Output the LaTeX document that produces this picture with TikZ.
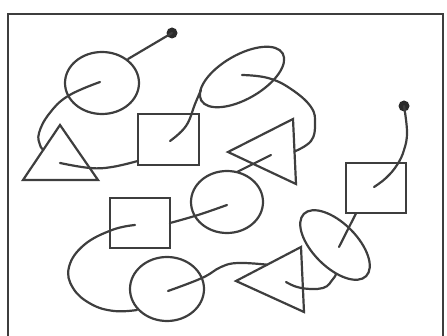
\documentclass[tikz,border=0pt]{standalone}
\usetikzlibrary{shapes.geometric,calc}
\definecolor{ink}{RGB}{62,62,62}
\begin{document}
\begin{tikzpicture}[x=1pt,y=-1pt,
  shp/.style={draw=ink,line width=2.2pt,inner sep=0pt,outer sep=0pt},
  oval/.style={shp,ellipse},
  box/.style={shp,rectangle},
  tri/.style={draw=ink,line width=2.2pt,line join=miter},
  conn/.style={draw=ink,line width=2.2pt,line cap=round},
  blob/.style={circle,fill=ink!70!black,inner sep=0pt,minimum size=11pt}]
\useasboundingbox (0,0) rectangle (447,336);
\draw[ink,line width=2pt] (8,336) -- (8,14) -- (443,14) -- (443,336);

% shapes
\node[oval,minimum width=74pt,minimum height=62pt] (c1) at (102,83) {};
\node[oval,minimum width=72pt,minimum height=62pt] (c2) at (227,202) {};
\node[oval,minimum width=74pt,minimum height=64pt] (c3) at (167,289) {};
\node[oval,minimum width=94pt,minimum height=44pt,rotate=30] (e2) at (242,77) {};
\node[oval,minimum width=88pt,minimum height=44pt,rotate=-45] (e3) at (335,245) {};
\node[box,minimum width=61pt,minimum height=51pt] (s1) at (168.5,139.5) {};
\node[box,minimum width=60pt,minimum height=50pt] (s2) at (140,223) {};
\node[box,minimum width=60pt,minimum height=50pt] (s3) at (376,188) {};
\node[blob] (d1) at (172,33) {};
\node[blob] (d2) at (404,106) {};

\coordinate (t1a) at (60,125); \coordinate (t1l) at (23,180); \coordinate (t1r) at (98,180);
\coordinate (t2a) at (228,152); \coordinate (t2t) at (293,119); \coordinate (t2b) at (296,184);
\coordinate (t3a) at (236,281); \coordinate (t3t) at (301,247); \coordinate (t3b) at (304,312);
\draw[tri] (t1a) -- (t1l) -- (t1r) -- cycle;
\draw[tri] (t2a) -- (t2t) -- (t2b) -- cycle;
\draw[tri] (t3a) -- (t3t) -- (t3b) -- cycle;

% connector end points
\coordinate (a1) at (128,59);
\coordinate (b1) at ($(t1a)!0.45!(t1l)$);
\coordinate (c0) at (60,163);
\coordinate (cc1) at ($(s1.south west)!0.08!(s1.north west)$);
\coordinate (dd0) at (170,141);
\coordinate (dd1) at (201,90);
\coordinate (ee1) at ($(t2t)!0.5!(t2b)$);
\coordinate (f0) at (271,155);
\coordinate (f1) at (237,172);
\coordinate (h0) at (135,225);
\coordinate (h1) at (137,310);
\coordinate (i1) at ($(t3a)!0.48!(t3t)$);
\coordinate (j0) at (286,282);
\coordinate (j1) at (336,274);
\coordinate (k0) at (339,247);
\coordinate (k1) at ($(s3.south west)!0.17!(s3.south east)$);

% connectors
\draw[conn] (d1.center) -- (a1);
\draw[conn] plot[smooth,tension=0.7] coordinates {(100,82) (68,96) (49,114) (39,133) (40,145) (b1)};
\draw[conn] plot[smooth,tension=0.7] coordinates {(c0) (90,168) (112,167) (cc1)};
\draw[conn] plot[smooth,tension=0.7] coordinates {(dd0) (186,126) (195,104) (dd1)};
\draw[conn] plot[smooth,tension=0.7] coordinates {(242,75) (268,78) (291,89) (311,107) (315,124) (311,141) (ee1)};
\draw[conn] (f0) -- (f1);
\draw[conn] plot[smooth,tension=0.7] coordinates {(227,205) (198,215) (s2.east)};
\draw[conn] plot[smooth,tension=0.7] coordinates {(h0) (112,230) (84,245) (69,267) (73,288) (91,304) (114,311) (h1)};
\draw[conn] plot[smooth,tension=0.7] coordinates {(168,291) (202,278) (221,267) (238,263) (i1)};
\draw[conn] plot[smooth,tension=0.7] coordinates {(j0) (301,288) (323,288) (333,279) (j1)};
\draw[conn] (k0) -- (k1);
\draw[conn] plot[smooth,tension=0.7] coordinates {(374,187) (386,178) (397,165) (404,150) (407,132) (d2.center)};
\end{tikzpicture}
\end{document}
